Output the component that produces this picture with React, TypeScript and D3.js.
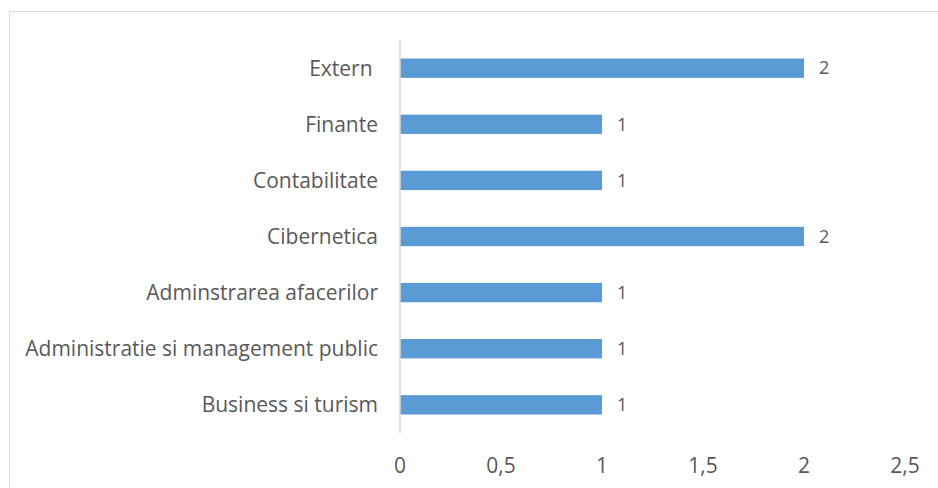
import React from "react";
import * as d3 from "d3";

const categories = [
  "Extern ",
  "Finante",
  "Contabilitate",
  "Cibernetica",
  "Adminstrarea afacerilor",
  "Administratie si management public",
  "Business si turism",
];
const values = [2, 1, 1, 2, 1, 1, 1];
const xTicks = [0, 0.5, 1, 1.5, 2, 2.5];

export default function App() {
  const W = 938;
  const H = 488;
  const x = d3.scaleLinear().domain([0, 2.5]).range([400, 905]);
  const y = d3.scaleBand().domain(categories).range([40, 433]).paddingInner(0.655).paddingOuter(0.33);
  const fmt = (v: number) => String(v).replace(".", ",");
  const font = "'Open Sans', sans-serif";
  const textColor = "#595959";
  return (
    <svg
      width={W}
      height={H}
      style={{ position: "absolute", left: 0, top: 0, background: "#fff" }}
    >
      <rect x={9.5} y={11.5} width={W + 10} height={H + 10} fill="#fff" stroke="#d9d9d9" strokeWidth={1} />
      {categories.map((c, i) => (
        <g key={c}>
          <rect
            x={x(0)}
            y={y(c)!}
            width={x(values[i]) - x(0)}
            height={y.bandwidth()}
            fill="#5B9BD5"
          />
          <text
            x={x(values[i]) + 15}
            y={y(c)! + y.bandwidth() / 2}
            dy="0.35em"
            fontFamily={font}
            fontSize={18}
            fill={textColor}
          >
            {values[i]}
          </text>
          <text
            x={378}
            y={y(c)! + y.bandwidth() / 2}
            dy="0.35em"
            textAnchor="end"
            fontFamily={font}
            fontSize={21}
            fill={textColor}
            style={{ whiteSpace: "pre" }}
          >
            {c}
          </text>
        </g>
      ))}
      <line x1={x(0)} x2={x(0)} y1={40} y2={433} stroke="#d9d9d9" strokeWidth={1.5} />
      {xTicks.map((t) => (
        <text
          key={t}
          x={x(t)}
          y={466}
          dy="0.35em"
          textAnchor="middle"
          fontFamily={font}
          fontSize={21}
          fill={textColor}
        >
          {fmt(t)}
        </text>
      ))}
    </svg>
  );
}
